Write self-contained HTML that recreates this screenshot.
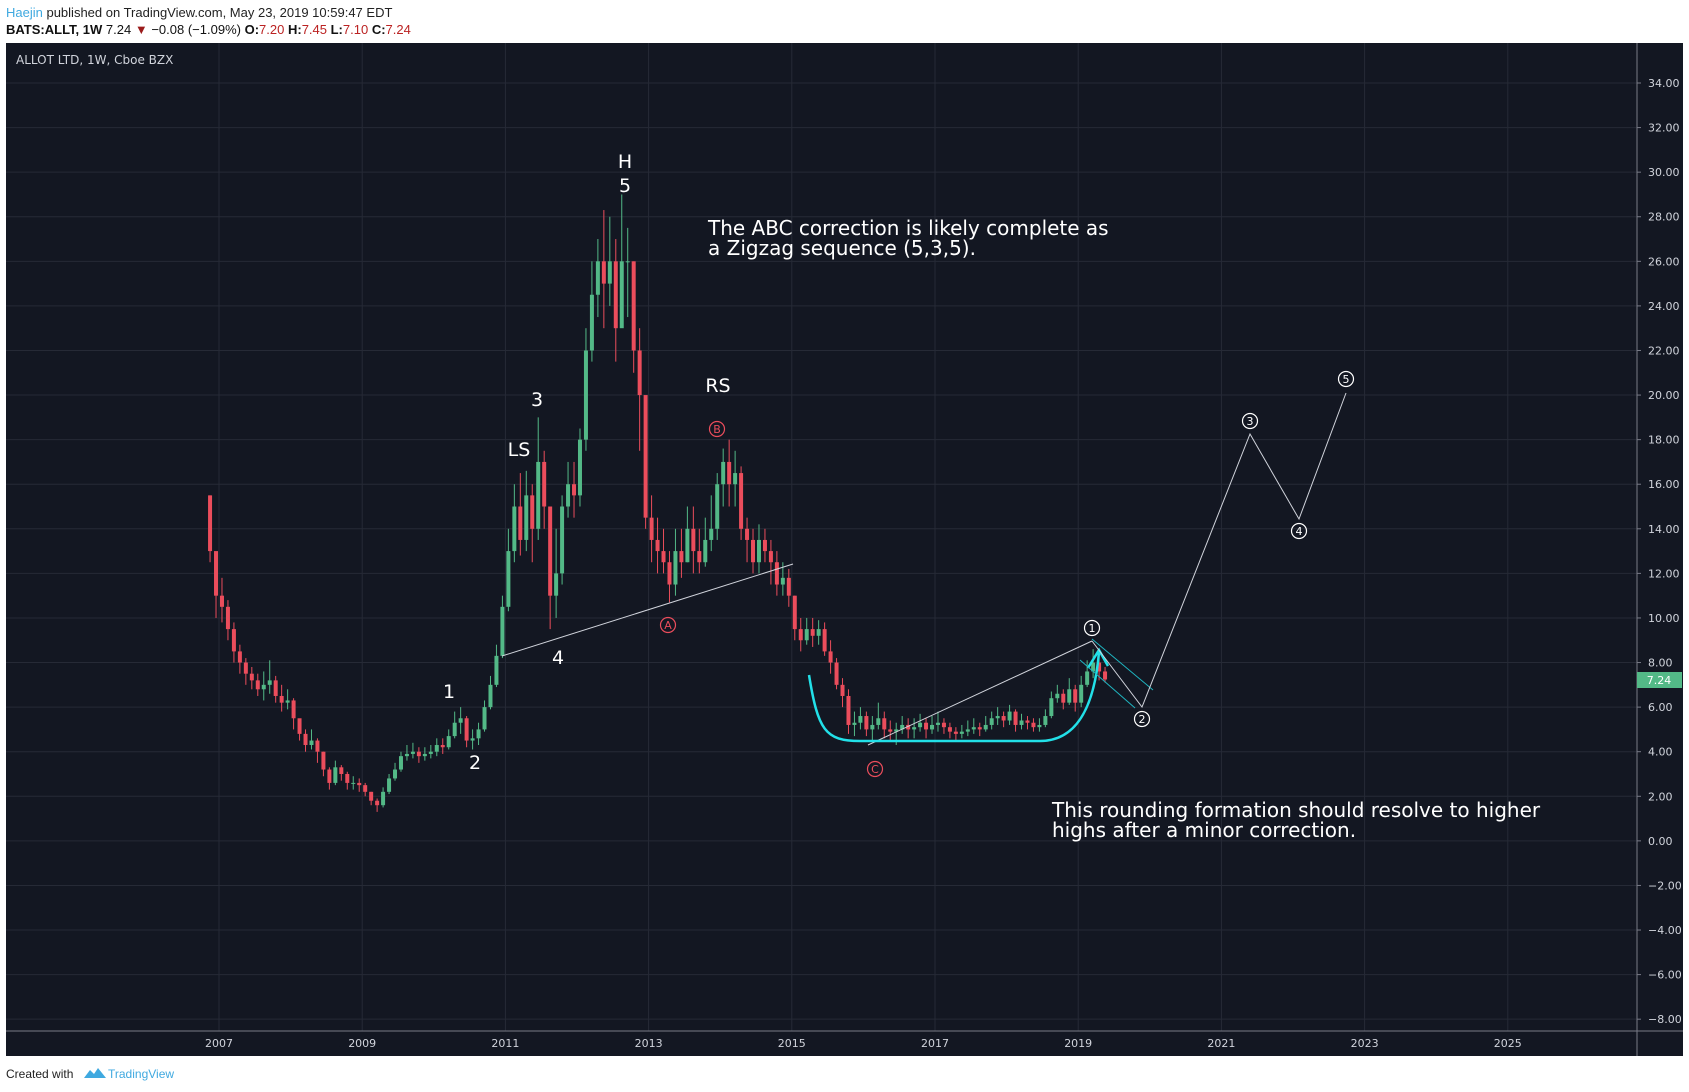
<!DOCTYPE html>
<html><head><meta charset="utf-8"><style>
body{margin:0;width:1689px;height:1092px;background:#fff;overflow:hidden;font-family:"Liberation Sans",sans-serif;}
svg{position:absolute;left:0;top:0}
</style></head><body>
<svg id="s" width="1689" height="1092">
<text x="6" y="17" font-size="13" fill="#222"><tspan fill="#3fa9e0">Haejin</tspan> published on TradingView.com, May 23, 2019 10:59:47 EDT</text>
<text x="6" y="34" font-size="13" fill="#111" font-weight="bold">BATS:ALLT, 1W <tspan font-weight="normal">7.24</tspan> <tspan fill="#9b1c1c">▼</tspan> <tspan font-weight="normal">−0.08 (−1.09%)</tspan> O:<tspan fill="#b22" font-weight="normal">7.20</tspan> H:<tspan fill="#b22" font-weight="normal">7.45</tspan> L:<tspan fill="#b22" font-weight="normal">7.10</tspan> C:<tspan fill="#b22" font-weight="normal">7.24</tspan></text>
<rect x="6" y="43" width="1677" height="1013" fill="#131722"/>
<g id="grid"></g>
<line x1="1637" y1="43" x2="1637" y2="1056" stroke="#787b86"/>
<line x1="6" y1="1031" x2="1683" y2="1031" stroke="#787b86"/>
<text x="16" y="64" font-size="12" fill="#d1d4dc" font-family="DejaVu Sans,sans-serif">ALLOT LTD, 1W, Cboe BZX</text>
<g id="candles"></g>
<g id="ann" fill="none">
<line x1="502" y1="656" x2="793" y2="564" stroke="#d1d4dc" stroke-width="1"/>
<line x1="868" y1="745" x2="1092" y2="641" stroke="#d1d4dc" stroke-width="1"/>
<path d="M809 675 C818 730,825 741,860 741 L1040 741 C1080 741,1095 700,1099 652" stroke="#22e0e8" stroke-width="2.5"/>
<path d="M1088 668 L1099 650 L1108 666" stroke="#22e0e8" stroke-width="2.5"/>
<line x1="1092" y1="639" x2="1153" y2="690" stroke="#1fb5c0"/>
<line x1="1080" y1="660" x2="1135" y2="708" stroke="#1fb5c0"/>
<polyline points="1092,641 1142,707 1250,434 1299,519 1346,393" stroke="#d1d4dc" stroke-width="1"/>
</g>
<g font-family="DejaVu Sans,sans-serif" fill="#fff" font-size="19" text-anchor="middle">
<text x="625" y="168">H</text>
<text x="625" y="192">5</text>
<text x="537" y="406">3</text>
<text x="519" y="456">LS</text>
<text x="558" y="664">4</text>
<text x="449" y="698">1</text>
<text x="475" y="769">2</text>
<text x="718" y="392">RS</text>
</g>
<g font-family="DejaVu Sans,sans-serif" fill="#fff" font-size="20">
<text x="708" y="235">The ABC correction is likely complete as</text>
<text x="708" y="255">a Zigzag sequence (5,3,5).</text>
<text x="1052" y="817">This rounding formation should resolve to higher</text>
<text x="1052" y="837">highs after a minor correction.</text>
</g>
<g id="circles" font-family="DejaVu Sans,sans-serif" font-size="11" text-anchor="middle"></g>
<g id="axes" font-family="DejaVu Sans,sans-serif" font-size="11" fill="#d1d4dc"></g>
<rect x="1637" y="672" width="45" height="16" fill="#53b987"/>
<text x="1659" y="684" font-size="11" fill="#fff" text-anchor="middle" font-family="DejaVu Sans,sans-serif">7.24</text>
<text x="6" y="1078" font-size="12" fill="#222">Created with</text>
<path d="M84 1078 l6 -8 l4 4 l4 -6 l8 10 z" fill="#3fa9e0"/>
<text x="108" y="1078" font-size="12" fill="#3fa9e0">TradingView</text>
</svg>
<script>
const priceTicks=[34,32,30,28,26,24,22,20,18,16,14,12,10,8,6,4,2,0,-2,-4,-6,-8];
const yearTicks=[2007,2009,2011,2013,2015,2017,2019,2021,2023,2025];
const startYear=2006, startMonth=11;
const closes=[13,11,
10.5,9.5,8.5,8,7.5,7.2,6.8,7,7.2,6.5,6.2,6.3,
5.5,4.8,4.3,4.5,4,3.2,2.6,3.3,3,2.6,2.6,2.5,
2.2,1.8,1.6,2.2,2.8,3.2,3.8,3.9,4,3.8,3.9,4,
4.3,4.2,4.7,5.3,5.5,4.5,4.6,5,6,7,8.3,10.5,
13,15,13.5,15.5,14,17,15,11,12,15,16,15.5,
18,22,24.5,26,25,26,23,26,26,22,20,14.5,
13.5,13,12.5,11.5,13,12.5,14,13,12.5,13.5,14,16,
17,16,16.5,14,13.5,12.5,13.5,13,12.5,11.5,11.8,11,
9.5,9,9.5,9.2,9.5,8.5,8,7,6.5,5.2,5.3,5.6,
5,5.2,5.5,5,4.9,5,5.2,5,5.1,5.3,5,5.2,
5.3,5.1,4.9,4.8,4.9,5,5.1,5,5.2,5.5,5.6,5.4,
5.8,5.2,5.4,5.3,5.1,5.2,5.6,6.4,6.6,6.2,6.8,6.2,
7,7.6,8,7.6,7.24];
const highs=[15.5,12,
11.8,10.8,9.8,8.8,8.2,7.8,7.5,7.6,8.1,7.4,7,6.8,
6.4,5.4,5,5,4.6,4,3.3,3.6,3.4,3.1,2.9,2.8,
2.6,2.2,1.9,2.4,3,3.5,4,4.3,4.4,4.2,4.2,4.3,
4.6,4.6,5,5.8,6,5.6,5,5.3,6.3,7.4,8.8,11,
14,16,16.5,16.6,16,19,17.5,15,14,15.5,17,17,
18.5,23,26,27,28.3,28,27,29,27.5,26,23,18,
15.5,14.5,14,13,14,14,15,15,14,14.5,15.5,16.5,
17.6,18,17.5,16.8,14.5,14,14.2,14,13.5,13,12.5,12.2,
11,10,10,10,9.9,9.8,9,8.2,7.3,6.8,5.8,6,
5.8,5.6,6.2,5.8,5.4,5.3,5.6,5.5,5.5,5.7,5.5,5.6,
5.8,5.5,5.3,5.1,5.2,5.4,5.5,5.3,5.6,5.8,6,5.8,
6.1,5.9,5.7,5.6,5.5,5.5,5.9,6.7,7,6.8,7.3,7,
7.4,8.1,8.6,8.4,7.8];
const lows=[12.5,10,
9.8,9,8,7.5,7,6.8,6.5,6.3,6.6,6.2,5.8,5.9,
5,4.5,4,4.1,3.5,2.9,2.3,2.5,2.7,2.3,2.3,2.2,
2,1.6,1.3,1.5,2.1,2.7,3.1,3.6,3.7,3.5,3.6,3.7,
3.8,3.9,4.1,4.6,4.8,4.2,4.1,4.3,4.9,5.9,6.9,8.2,
10.3,12.5,12.8,13,12.5,13.5,14,9.5,10,11.5,14.5,14.5,
15,17.5,21.5,23.5,23,24,21.5,24,23.5,21,17.5,14,
12.5,12,12,10.7,11,11.8,12.5,12,12,12.3,13,13.5,
15,15,15,13.5,12.5,12,12,12.5,11.5,11,11,10.5,
9,8.5,8.8,8.7,8.8,8.3,7.5,6.8,6,4.8,4.7,5,
4.7,4.5,5,4.6,4.5,4.3,4.8,4.6,4.6,4.9,4.6,4.8,
4.9,4.8,4.6,4.5,4.6,4.7,4.8,4.7,4.9,5,5.2,5.1,
5.2,4.9,5,5,4.9,4.9,5.1,5.5,6.2,5.9,6.1,5.8,
6,6.9,7.3,7.2,7.1];
const NS='http://www.w3.org/2000/svg';
const X=t=>219+(t-2007)*71.6;
const Y=p=>83+(34-p)*22.29;
function mk(tag,attrs,parent){const e=document.createElementNS(NS,tag);for(const k in attrs)e.setAttribute(k,attrs[k]);parent.appendChild(e);return e;}
const grid=document.getElementById('grid'),axes=document.getElementById('axes');
priceTicks.forEach(p=>{
 const l=mk('line',{x1:6,x2:1637,y1:Y(p),y2:Y(p),stroke:'#262a36'},grid);
 
 
 const t=mk('text',{x:1648,y:Y(p)+4},axes);
 
 
 t.textContent=p<0?'−'+Math.abs(p).toFixed(2):p.toFixed(2);
 mk('line',{x1:1637,x2:1641,y1:Y(p),y2:Y(p),stroke:'#787b86'},axes);
});
yearTicks.forEach(yr=>{
 const l=mk('line',{x1:X(yr),x2:X(yr),y1:43,y2:1031,stroke:'#262a36'},grid);
 
 
 const t=mk('text',{x:X(yr),y:1047,'text-anchor':'middle'},axes);
 
 
 t.textContent=yr;
});
const cg=document.getElementById('candles');
let prev=15.5;
closes.forEach((c,i)=>{
 const m=startMonth-1+i, t=startYear+Math.floor(m/12)+((m%12)+0.5)/12;
 const o=prev; prev=c;
 const col=c>=o?'#53b987':'#eb4d5c';
 const x=X(t);
 const w=mk('line',{x1:x,x2:x,y1:Y(highs[i]),y2:Y(lows[i]),stroke:col,'stroke-width':1},cg);
 
 
 const top=Y(Math.max(o,c)),bot=Y(Math.min(o,c));
 const b=mk('rect',{x:x-2,y:top,width:4,height:Math.max(1,bot-top),fill:col},cg);
 
 
});
const circ=document.getElementById('circles');
[['1',1092,628,'#fff'],['2',1142,719,'#fff'],['3',1250,421,'#fff'],['4',1299,531,'#fff'],['5',1346,379,'#fff'],['A',668,625,'#eb4d5c'],['B',717,429,'#eb4d5c'],['C',875,769,'#eb4d5c']].forEach(([lab,x,y,col])=>{
 const c=mk('circle',{cx:x,cy:y,r:7.5,fill:'none',stroke:col,'stroke-width':1.2},circ);
 
 
 const t=mk('text',{x:x,y:y+4,fill:col},circ);
 
 
 t.textContent=lab;
});
</script>
</body></html>
